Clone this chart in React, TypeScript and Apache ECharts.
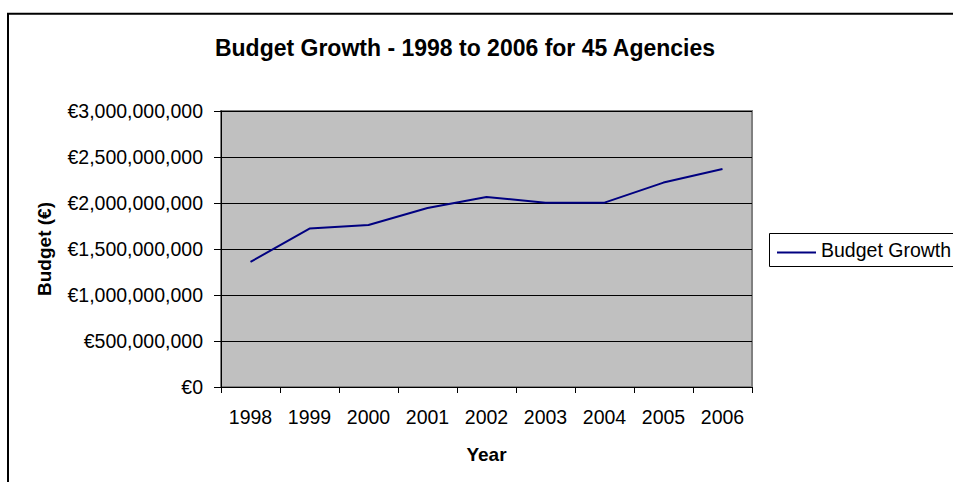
import React, { useEffect, useRef } from "react";
import * as echarts from "echarts";

const years = ["1998", "1999", "2000", "2001", "2002", "2003", "2004", "2005", "2006"];
const budgetGrowth = [
  1360000000, 1722000000, 1761000000, 1946000000, 2065000000, 2004000000, 2004000000, 2222000000, 2370000000,
];
const yTicks = { min: 0, max: 3000000000, interval: 500000000 };
const titleText = "Budget Growth - 1998 to 2006 for 45 Agencies";
const seriesName = "Budget Growth";

const FONT = "'Liberation Sans', Arial, Helvetica, sans-serif";

export default function App() {
  const ref = useRef<HTMLDivElement>(null);
  useEffect(() => {
    if (!ref.current) return;
    const chart = echarts.init(ref.current, null, { renderer: "svg" });
    chart.setOption({
      animation: false,
      backgroundColor: "#ffffff",
      textStyle: { fontFamily: FONT },
      title: {
        text: titleText,
        left: 460,
        top: 31,
        textAlign: "center",
        textStyle: { fontFamily: FONT, fontSize: 23, fontWeight: "bold", color: "#000" },
      },
      graphic: [
        {
          type: "rect",
          shape: { x: 8, y: 13.7, width: 1200, height: 1000 },
          style: { fill: "none", stroke: "#000", lineWidth: 2 },
          silent: true,
          z: 100,
        },
        {
          type: "group",
          z: 100,
          children: [
            {
              type: "rect",
              shape: { x: 769.5, y: 233.5, width: 300, height: 33 },
              style: { fill: "#fff", stroke: "#000", lineWidth: 1 },
            },
            {
              type: "line",
              shape: { x1: 777, y1: 252.5, x2: 816, y2: 252.5 },
              style: { stroke: "#000080", lineWidth: 2 },
            },
            {
              type: "text",
              x: 821,
              y: 250,
              style: {
                text: seriesName,
                fontFamily: FONT,
                fontSize: 19.5,
                fill: "#000",
                verticalAlign: "middle",
                align: "left",
              },
            },
          ],
        },
      ],
      grid: {
        left: 221,
        top: 111,
        width: 531,
        height: 276,
        show: true,
        backgroundColor: "#C0C0C0",
        borderColor: "#808080",
        borderWidth: 2,
        containLabel: false,
      },
      xAxis: {
        type: "category",
        data: years,
        boundaryGap: true,
        name: "Year",
        nameLocation: "middle",
        nameGap: 58,
        nameTextStyle: { fontFamily: FONT, fontSize: 19, fontWeight: "bold", color: "#000" },
        axisLine: { show: true, lineStyle: { color: "#000", width: 1 } },
        axisTick: { show: true, length: 6, lineStyle: { color: "#000" } },
        axisLabel: { margin: 20, fontFamily: FONT, fontSize: 19.5, color: "#000" },
        splitLine: { show: false },
      },
      yAxis: {
        type: "value",
        min: yTicks.min,
        max: yTicks.max,
        interval: yTicks.interval,
        name: "Budget (€)",
        nameLocation: "middle",
        nameGap: 167,
        nameTextStyle: { fontFamily: FONT, fontSize: 19, fontWeight: "bold", color: "#000" },
        axisLine: { show: true, lineStyle: { color: "#000", width: 1 } },
        axisTick: { show: true, length: 7, lineStyle: { color: "#000" } },
        axisLabel: {
          margin: 18,
          fontFamily: FONT,
          fontSize: 19.5,
          color: "#000",
          formatter: (v: number) => "€" + v.toLocaleString("en-US"),
        },
        splitLine: { show: true, lineStyle: { color: "#000", width: 1 } },
      },
      series: [
        {
          name: seriesName,
          type: "line",
          data: budgetGrowth,
          symbol: "none",
          lineStyle: { color: "#000080", width: 2 },
          itemStyle: { color: "#000080" },
        },
      ],
    });
    return () => chart.dispose();
  }, []);
  return (
    <div
      ref={ref}
      style={{ position: "fixed", left: 0, top: 0, width: 953, height: 482 }}
    />
  );
}
